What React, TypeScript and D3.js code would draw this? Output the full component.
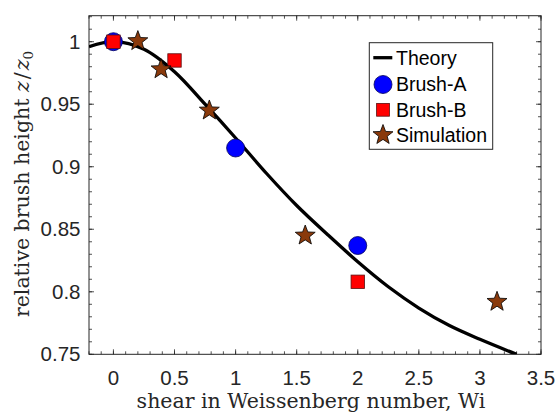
import React from "react";
import * as d3 from "d3";

const theoryX = [-0.2, 0, 0.25, 0.5, 0.75, 1.0, 1.25, 1.5, 1.75, 2.0, 2.25, 2.5, 2.75, 3.0, 3.3];
const theoryY = [0.996, 1.0, 0.994, 0.976, 0.95, 0.923, 0.895, 0.869, 0.846, 0.824, 0.804, 0.787, 0.773, 0.762, 0.75];

const brushAX = [0, 1, 2];
const brushAY = [1.0, 0.915, 0.837];

const brushBX = [0, 0.5, 2];
const brushBY = [1.0, 0.985, 0.808];

const simX = [0.2, 0.39, 0.785, 1.57, 3.14];
const simY = [1.0005, 0.978, 0.945, 0.845, 0.792];

const xTicks = [0, 0.5, 1, 1.5, 2, 2.5, 3, 3.5];
const xTickLabels = ["0", "0.5", "1", "1.5", "2", "2.5", "3", "3.5"];
const yTicks = [0.75, 0.8, 0.85, 0.9, 0.95, 1];
const yTickLabels = ["0.75", "0.8", "0.85", "0.9", "0.95", "1"];

const legendLabels = ["Theory", "Brush-A", "Brush-B", "Simulation"];

const W = 558;
const H = 414;
const L = 89, R = 541, T = 15.7, B = 354.3;

const x = d3.scaleLinear().domain([-0.2, 3.5]).range([L, R]);
const y = d3.scaleLinear().domain([0.75, 1.0208]).range([B, T]);

const axisColor = "#262626";
const sans = "'Liberation Sans', Arial, Helvetica, sans-serif";
const serif = "'DejaVu Serif', 'Liberation Serif', serif";

function starPath(cx: number, cy: number, r: number) {
  const inner = r * 0.42;
  const pts: [number, number][] = [];
  for (let i = 0; i < 10; i++) {
    const a = -Math.PI / 2 + (i * Math.PI) / 5;
    const rr = i % 2 === 0 ? r : inner;
    pts.push([cx + rr * Math.cos(a), cy + rr * Math.sin(a)]);
  }
  return "M" + pts.map((p) => p.join(",")).join("L") + "Z";
}

const STAR_FILL = "#8a3a0c";
const BLUE = "#0000ff";
const RED = "#ff0000";

export default function App() {
  const line = d3
    .line<number>()
    .x((_, i) => x(theoryX[i]))
    .y((d) => y(d))
    .curve(d3.curveCatmullRom.alpha(0.5));
  const theoryPath = line(theoryY) || "";

  const xMinor = d3.range(-2, 36).map((i) => i / 10);
  const yMinor = d3.range(75, 103).map((i) => i / 100);

  const legX = 369.3, legY = 42.7, legW = 123.4, legH = 106.6;
  const rows = [57.7, 84.5, 109.8, 135];

  return (
    <svg width={W} height={H} style={{ position: "absolute", left: 0, top: 0, background: "#fff" }}>
      <rect x={0} y={0} width={W} height={H} fill="#fff" />
      <defs>
        <clipPath id="plotclip">
          <rect x={L} y={T} width={R - L} height={B - T} />
        </clipPath>
      </defs>
      {/* minor ticks */}
      <g stroke={axisColor} strokeWidth={0.8}>
        {xMinor.map((v, i) => (
          <g key={"xm" + i}>
            <line x1={x(v)} x2={x(v)} y1={B} y2={B - 3} />
            <line x1={x(v)} x2={x(v)} y1={T} y2={T + 3} />
          </g>
        ))}
        {yMinor.map((v, i) => (
          <g key={"ym" + i}>
            <line x1={L} x2={L + 3} y1={y(v)} y2={y(v)} />
            <line x1={R} x2={R - 3} y1={y(v)} y2={y(v)} />
          </g>
        ))}
        {xTicks.map((v, i) => (
          <g key={"xM" + i}>
            <line x1={x(v)} x2={x(v)} y1={B} y2={B - 5} />
            <line x1={x(v)} x2={x(v)} y1={T} y2={T + 5} />
          </g>
        ))}
        {yTicks.map((v, i) => (
          <g key={"yM" + i}>
            <line x1={L} x2={L + 5} y1={y(v)} y2={y(v)} />
            <line x1={R} x2={R - 5} y1={y(v)} y2={y(v)} />
          </g>
        ))}
      </g>
      <rect x={L} y={T} width={R - L} height={B - T} fill="none" stroke={axisColor} strokeWidth={1} />

      {/* tick labels */}
      <g fill={axisColor} fontFamily={sans} fontSize={20.5}>
        {xTicks.map((v, i) => (
          <text key={"xl" + i} x={x(v)} y={384.5} textAnchor="middle">
            {xTickLabels[i]}
          </text>
        ))}
        {yTicks.map((v, i) => (
          <text key={"yl" + i} x={80.5} y={y(v)} dy="0.35em" textAnchor="end">
            {yTickLabels[i]}
          </text>
        ))}
      </g>

      {/* axis titles */}
      <text x={(L + R) / 2 - 4} y={407.5} textAnchor="middle" fontFamily={serif} fontSize={20.5} fill={axisColor}>
        shear in Weissenberg number, Wi
      </text>
      <text
        transform={`translate(29,${(T + B) / 2 - 1}) rotate(-90)`}
        textAnchor="middle"
        fontFamily={serif}
        fontSize={20.5}
        fill={axisColor}
      >
        relative brush height{" "}
        <tspan fontStyle="italic">z</tspan>
        <tspan dx={2}>/</tspan>
        <tspan fontStyle="italic" dx={2}>z</tspan>
        <tspan fontSize={13.5} dy={4}>0</tspan>
      </text>

      {/* data */}
      <g clipPath="url(#plotclip)">
        <path d={theoryPath} fill="none" stroke="#000" strokeWidth={3.3} />
      </g>
      {brushAX.map((v, i) => (
        <circle key={"a" + i} cx={x(v)} cy={y(brushAY[i])} r={9} fill={BLUE} stroke="#00005a" strokeWidth={0.8} />
      ))}
      {brushBX.map((v, i) => (
        <rect
          key={"b" + i}
          x={x(v) - 6.7}
          y={y(brushBY[i]) - 6.7}
          width={13.4}
          height={13.4}
          fill={RED}
          stroke="#5a1010"
          strokeWidth={0.8}
        />
      ))}
      {simX.map((v, i) => (
        <path key={"s" + i} d={starPath(x(v), y(simY[i]), 10.5)} fill={STAR_FILL} stroke="#000" strokeWidth={0.8} />
      ))}

      {/* legend */}
      <rect x={legX} y={legY} width={legW} height={legH} fill="#fff" stroke={axisColor} strokeWidth={1} />
      <line x1={373.3} x2={392.3} y1={rows[0]} y2={rows[0]} stroke="#000" strokeWidth={3.3} />
      <circle cx={383} cy={rows[1]} r={9} fill={BLUE} stroke="#00005a" strokeWidth={0.8} />
      <rect x={383 - 6.4} y={rows[2] - 6.4} width={12.8} height={12.8} fill={RED} stroke="#5a1010" strokeWidth={0.8} />
      <path d={starPath(383, rows[3], 10.5)} fill={STAR_FILL} stroke="#000" strokeWidth={0.8} />
      <g fontFamily={sans} fontSize={19.5} fill="#000">
        {legendLabels.map((t, i) => (
          <text key={"lg" + i} x={396} y={rows[i]} dy="0.35em">
            {t}
          </text>
        ))}
      </g>
    </svg>
  );
}
